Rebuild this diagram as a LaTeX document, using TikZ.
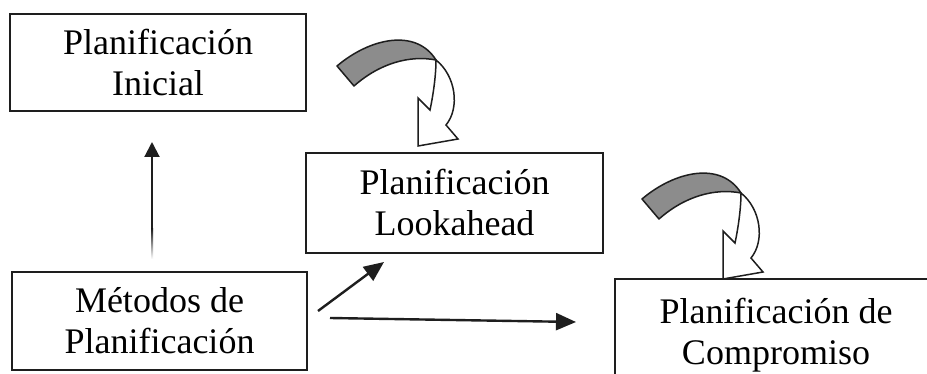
\documentclass[tikz,border=0pt]{standalone}
\usepackage{fontspec}
\setmainfont{Liberation Serif}[Ligatures=CommonOff]
\usetikzlibrary{arrows.meta}
\definecolor{bandgray}{RGB}{140,140,140}
\definecolor{ink}{RGB}{30,30,30}
\tikzset{
  box/.style={draw=ink, line width=1.8pt, inner sep=0pt, align=center,
    font=\fontsize{36}{41}\selectfont},
  link/.style={draw=ink, line width=2.4pt, -{Triangle[length=20pt,width=17pt]}},
  turnarrow/.pic={
    % grey back side of the twisted band
    \draw[ink, line width=1.5pt, fill=bandgray, line join=round]
      (337,66) .. controls (370,38) and (416,28) .. (436,60)
      .. controls (410,55) and (380,63) .. (354,86) -- cycle;
    % white front part ending in the arrowhead
    \draw[ink, line width=1.5pt, fill=white, line join=miter]
      (436,60) .. controls (456,76) and (460,108) .. (446,125)
      -- (458,139) -- (418,146) -- (418,98) -- (430,110)
      .. controls (433,96) and (436,76) .. (436,60) -- cycle;
  }
}
\begin{document}
\begin{tikzpicture}[x=1pt,y=-1pt]
  \useasboundingbox (0,0) rectangle (927,374);
  \fill[white] (0,0) rectangle (927,374);
  \begin{scope}
    \clip (0,0) rectangle (927,374);

    % planning boxes
    \node[box, minimum width=296pt, minimum height=97pt]  (ini)  at (158,62.5)  {Planificación\\Inicial};
    \node[box, minimum width=297pt, minimum height=100pt] (look) at (454.5,203) {Planificación\\Lookahead};
    \node[box, minimum width=295pt, minimum height=98pt]  (met)  at (159.5,321) {Métodos de\\Planificación};
    \node[box, minimum width=322pt, minimum height=112pt] (comp) at (776,335)   {Planificación de\\Compromiso};

    % free ends of the connectors
    \coordinate (upTail)   at (152,230);
    \coordinate (upTip)    at (152,142);
    \coordinate (diagTail) at (318,311);
    \coordinate (diagTip)  at (384,262);
    \coordinate (horTail)  at (330,318);
    \coordinate (horTip)   at (576,322);

    % connectors from the methods box
    \draw[link, line width=2pt, -{Triangle[length=15pt,width=15pt]}] (upTail) -- (upTip);
    \shade[top color=ink, bottom color=white] (151,229) rectangle (153,259);
    \draw[link] (diagTail) -- (diagTip);
    \draw[link] (horTail) -- (horTip);

    % curved iteration arrows
    \pic (loopA) at (0,0) {turnarrow};
    \pic (loopB) at (305,133) {turnarrow};
  \end{scope}
\end{tikzpicture}
\end{document}
